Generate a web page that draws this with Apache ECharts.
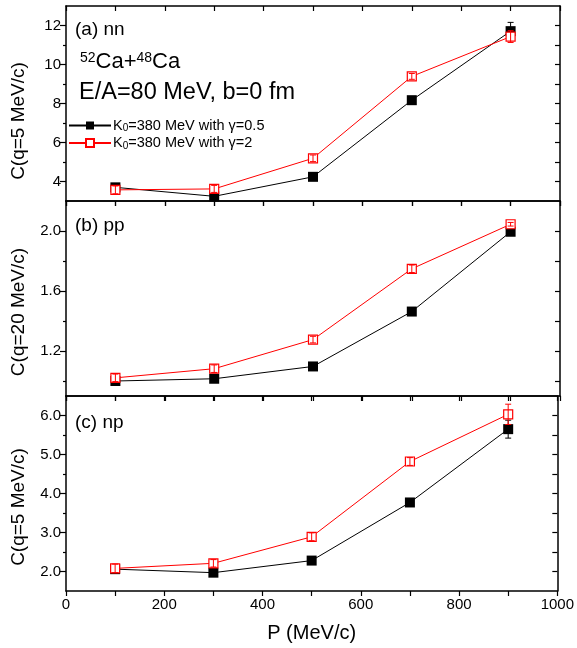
<!DOCTYPE html>
<html><head><meta charset="utf-8">
<script src="https://cdn.jsdelivr.net/npm/echarts@6/dist/echarts.min.js"></script>
<style>html,body{margin:0;padding:0;background:#fff}#c{width:577px;height:648px}</style>
</head><body><div id="c"></div>
<script>
const momenta = [100, 300, 500, 700, 900];
const seriesNames = ['K0=380 MeV with γ=0.5', 'K0=380 MeV with γ=2'];
const panelLabels = ['(a) nn', '(b) pp', '(c) np'];
const yNames = ['C(q=5 MeV/c)', 'C(q=20 MeV/c)', 'C(q=5 MeV/c)'];
const xName = 'P (MeV/c)';
// (a) nn
const nnSoft = [3.70, 3.24, 4.24, 8.17, 11.71];
const nnSoftErr = [0.05, 0.05, 0.05, 0.08, 0.45];
const nnStiff = [3.57, 3.62, 5.19, 9.39, 11.43];
const nnStiffErr = [0.2, 0.18, 0.17, 0.15, 0.30];
// (b) pp
const ppSoft = [1.00, 1.015, 1.097, 1.463, 1.995];
const ppSoftErr = [0.005, 0.005, 0.005, 0.006, 0.01];
const ppStiff = [1.021, 1.082, 1.276, 1.748, 2.045];
const ppStiffErr = [0.025, 0.025, 0.022, 0.025, 0.012];
// (c) np
const npSoft = [2.06, 1.97, 2.28, 3.77, 5.65];
const npSoftErr = [0.03, 0.03, 0.03, 0.04, 0.23];
const npStiff = [2.08, 2.21, 2.89, 4.82, 6.03];
const npStiffErr = [0.11, 0.095, 0.1, 0.1, 0.26];
// axis ranges and ticks
const yMin = [3, 0.9, 1.5];
const yMax = [13, 2.2, 6.5];
const yMajor = [[4, 6, 8, 10, 12], [1.2, 1.6, 2.0], [2, 3, 4, 5, 6]];
const yMinor = [[5, 7, 9, 11], [1.0, 1.4, 1.8], [2.5, 3.5, 4.5, 5.5]];
const yRight = [[4, 5, 6, 7, 8, 9, 10, 11, 12], [1.0, 1.2, 1.4, 1.6, 1.8, 2.0], [2, 2.5, 3, 3.5, 4, 4.5, 5, 5.5, 6]];
const yDigits = [0, 1, 1];

const FONT = 'Liberation Sans, Arial, sans-serif';
const RED = '#ff0000';
const gridTops = [6, 201, 396];
const GH = 195;

const chart = echarts.init(document.getElementById('c'), null, {renderer: 'canvas'});

const axisLine = {show: true, lineStyle: {color: '#000', width: 1.5}};
const grid = [], xAxis = [], yAxis = [], series = [];
for (let i = 0; i < 3; i++) {
  grid.push({left: 66, right: 17, top: gridTops[i], height: GH});
  xAxis.push({
    gridIndex: i, type: 'value', min: 0, max: 1000, interval: 100, position: 'bottom',
    axisLine, axisTick: {show: true, inside: false, length: 5, lineStyle: {color: '#000', width: 1.2}},
    axisLabel: {show: i === 2, formatter: v => (v % 200 === 0 ? String(v) : ''), color: '#000', fontSize: 15, fontFamily: FONT, margin: 6},
    splitLine: {show: false},
    name: i === 2 ? xName : '', nameLocation: 'middle', nameGap: 32,
    nameTextStyle: {color: '#000', fontSize: 20, fontFamily: FONT}
  });
  xAxis.push({
    gridIndex: i, type: 'value', min: 0, max: 1000, interval: 100, position: 'top',
    axisLine, axisTick: {show: true, inside: true, length: 5, lineStyle: {color: '#000', width: 1.2}},
    axisLabel: {show: false}, splitLine: {show: false}
  });
  const d = yDigits[i];
  yAxis.push({
    gridIndex: i, type: 'value', min: yMin[i], max: yMax[i], position: 'left',
    axisLine, axisTick: {show: true, inside: false, length: 6, customValues: yMajor[i], lineStyle: {color: '#000', width: 1.2}},
    axisLabel: {show: true, customValues: yMajor[i], formatter: v => v.toFixed(d), color: '#000', fontSize: 15, fontFamily: FONT, margin: 5},
    splitLine: {show: false}
  });
  yAxis.push({
    gridIndex: i, type: 'value', min: yMin[i], max: yMax[i], position: 'left',
    axisLine: {show: false}, axisTick: {show: true, inside: false, length: 3, customValues: yMinor[i], lineStyle: {color: '#000', width: 1.2}},
    axisLabel: {show: false}, splitLine: {show: false}
  });
  yAxis.push({
    gridIndex: i, type: 'value', min: yMin[i], max: yMax[i], position: 'right',
    axisLine, axisTick: {show: true, inside: true, length: 5, customValues: yRight[i], lineStyle: {color: '#000', width: 1.2}},
    axisLabel: {show: false}, splitLine: {show: false}
  });
}

function lineSeries(i, name, vals, color, filled, z) {
  return {
    type: 'line', name, xAxisIndex: 2 * i, yAxisIndex: 3 * i, z,
    data: momenta.map((x, k) => [x, vals[k]]),
    symbol: 'rect', symbolSize: filled ? 10 : 9,
    lineStyle: {color, width: 1},
    itemStyle: filled ? {color: color, borderColor: color, borderWidth: 0} : {color: '#fff', borderColor: color, borderWidth: 1.2},
    animation: false, silent: true
  };
}
function errSeries(i, vals, errs, color, z) {
  return {
    type: 'custom', xAxisIndex: 2 * i, yAxisIndex: 3 * i, z, silent: true, animation: false,
    data: momenta.map((x, k) => [x, vals[k] - errs[k], vals[k] + errs[k]]),
    encode: {x: 0, y: [1, 2]},
    renderItem: (params, api) => {
      const x = api.value(0);
      const lo = api.coord([x, api.value(1)]);
      const hi = api.coord([x, api.value(2)]);
      const w = 3;
      const s = {stroke: color, lineWidth: 1};
      return {type: 'group', children: [
        {type: 'line', shape: {x1: lo[0], y1: lo[1], x2: hi[0], y2: hi[1]}, style: s},
        {type: 'line', shape: {x1: lo[0] - w, y1: lo[1], x2: lo[0] + w, y2: lo[1]}, style: s},
        {type: 'line', shape: {x1: hi[0] - w, y1: hi[1], x2: hi[0] + w, y2: hi[1]}, style: s}
      ]};
    }
  };
}
const softVals = [nnSoft, ppSoft, npSoft], softErrs = [nnSoftErr, ppSoftErr, npSoftErr];
const stiffVals = [nnStiff, ppStiff, npStiff], stiffErrs = [nnStiffErr, ppStiffErr, npStiffErr];
for (let i = 0; i < 3; i++) {
  series.push(lineSeries(i, seriesNames[0], softVals[i], '#000', true, 2));
  series.push(errSeries(i, softVals[i], softErrs[i], '#000', 3));
  series.push(lineSeries(i, seriesNames[1], stiffVals[i], RED, false, 4));
  series.push(errSeries(i, stiffVals[i], stiffErrs[i], RED, 5));
}

const graphic = [];
const labelTops = [20, 216, 413];
for (let i = 0; i < 3; i++) {
  graphic.push({type: 'text', left: 75, top: labelTops[i], style: {text: panelLabels[i], font: '19px ' + FONT, fill: '#000'}});
}
const yNameCenters = [121, 312, 507];
for (let i = 0; i < 3; i++) {
  graphic.push({type: 'text', x: 19, y: yNameCenters[i], rotation: Math.PI / 2,
    style: {text: yNames[i], x: 0, y: 0, align: 'center', verticalAlign: 'middle', font: '19px ' + FONT, fill: '#000'}});
}
graphic.push({type: 'text', left: 80, top: 51, style: {
  text: '{s|52}{m|Ca+}{s|48}{m|Ca}', fill: '#000',
  rich: {s: {fontSize: 14, fontFamily: FONT, verticalAlign: 'top', fill: '#000'}, m: {fontSize: 22, fontFamily: FONT, fill: '#000'}}
}});
graphic.push({type: 'text', left: 79, top: 81, style: {text: 'E/A=80 MeV, b=0 fm', font: '23.5px ' + FONT, fill: '#000'}});

const option = {
  backgroundColor: '#fff',
  animation: false,
  grid, xAxis, yAxis, series, graphic,
  legend: {
    show: true, orient: 'vertical', left: 68, top: 118, padding: 0, itemWidth: 42, itemHeight: 10, itemGap: 2,
    data: seriesNames,
    formatter: n => '{t|K}{s|0}{t|' + n.slice(2) + '}',
    textStyle: {color: '#000', fontSize: 14.5, fontFamily: FONT, padding: [0, 0, 0, -3],
      rich: {t: {fontSize: 14.5, fontFamily: FONT, color: '#000'}, s: {fontSize: 10, fontFamily: FONT, color: '#000', verticalAlign: 'bottom', padding: [6, 0, 0, 0]}}}
  }
};
chart.setOption(option);
</script>
</body></html>
